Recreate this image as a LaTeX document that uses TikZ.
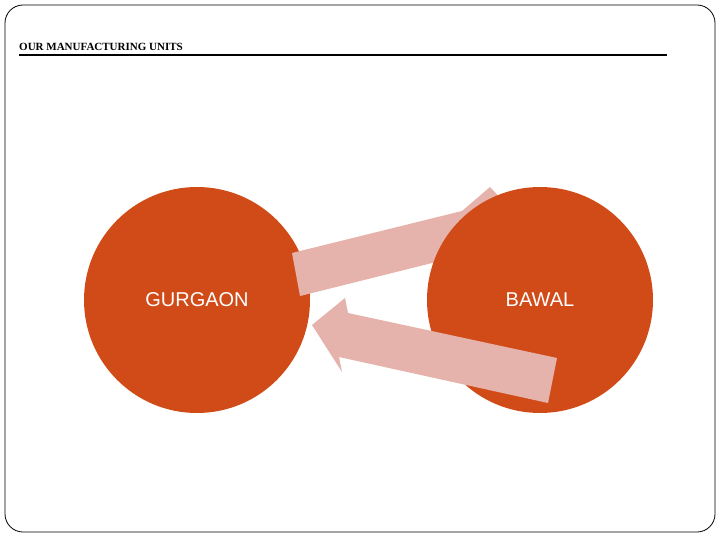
\documentclass[tikz,border=0pt]{standalone}
\usepackage{fontspec}
\setmainfont{Liberation Serif}
\newfontfamily\arial{Liberation Sans}
\definecolor{circ}{RGB}{208,75,24}
\definecolor{pinkarr}{RGB}{229,178,172}
\tikzset{unit/.style={circle,fill=circ,minimum size=226pt,inner sep=0pt,text=white,font=\arial\fontsize{20}{24}\selectfont},
arr/.style={fill=pinkarr}}
\begin{document}
\begin{tikzpicture}[x=1pt,y=-1pt]
\useasboundingbox (0,0) rectangle (720,540);
\draw[rounded corners=18pt,line width=0.8pt] (5,5) rectangle (715,532);
\node[anchor=base west,inner sep=0pt,font=\bfseries\fontsize{11}{13}\selectfont] (title) at (19,51) {OUR MANUFACTURING UNITS};
\draw[line width=1.5pt] (19,55) -- (667,55);
\node[unit] (g) at (197,300) {GURGAON};
\fill[arr] (292,253) -- (462,211) -- (490,187) -- (530,230) -- (478,256) -- (472,253) -- (300,296) -- cycle;
\node[unit] (b) at (540,300) {BAWAL};
\fill[arr] (557,358) -- (348,313) -- (345,298) -- (312,325) -- (342,372) -- (339,357) -- (548,403) -- cycle;
\end{tikzpicture}
\end{document}
